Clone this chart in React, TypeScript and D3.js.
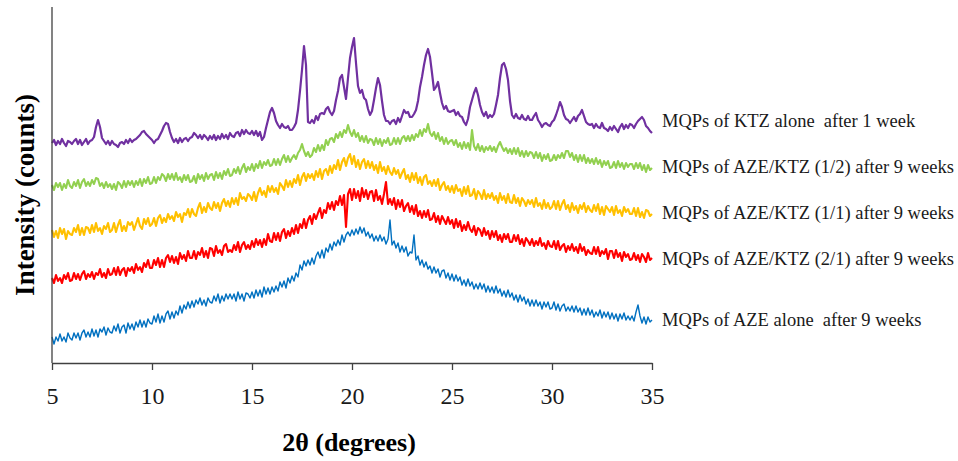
import { useEffect, useRef } from 'react';
import * as d3 from 'd3';

// 2-theta sampling of the digitised patterns
const START_ANGLE = 5;
const STEP = 0.1;
const xTicks = [5, 10, 15, 20, 25, 30, 35];

// intensities (arbitrary counts, offset stacking as in the figure), one row per degree
const ktzAlone1w = [
  220, 223, 218, 222, 219, 224, 220, 217, 222, 221,
  219, 222, 224, 219, 223, 218, 221, 224, 219, 222,
  223, 226, 236, 243, 236, 225, 222, 219, 222, 218,
  222, 219, 218, 216, 220, 221, 219, 223, 220, 224,
  221, 223, 224, 226, 228, 231, 232, 229, 227, 225,
  223, 220, 223, 224, 228, 232, 237, 240, 239, 231,
  225, 221, 224, 220, 225, 221, 224, 225, 222, 225,
  226, 230, 228, 225, 228, 224, 228, 226, 223, 227,
  224, 228, 223, 227, 224, 229, 225, 228, 224, 230,
  227, 226, 230, 231, 227, 233, 229, 233, 230, 229,
  232, 228, 232, 227, 231, 223, 226, 235, 243, 251,
  255, 250, 242, 238, 235, 239, 236, 235, 237, 233,
  233, 236, 240, 253, 272, 293, 317, 298, 241, 240,
  243, 240, 247, 243, 249, 250, 249, 254, 256, 251,
  248, 252, 263, 272, 285, 288, 276, 264, 285, 305,
  316, 325, 300, 277, 270, 273, 265, 263, 254, 248,
  252, 263, 275, 285, 278, 262, 248, 242, 242, 239,
  242, 243, 239, 245, 241, 247, 253, 250, 251, 246,
  246, 249, 253, 262, 276, 286, 298, 308, 314, 306,
  290, 273, 276, 281, 270, 260, 254, 257, 252, 251,
  252, 253, 248, 251, 247, 246, 241, 238, 244, 256,
  263, 270, 275, 268, 258, 251, 247, 251, 245, 248,
  246, 249, 258, 268, 285, 298, 300, 294, 283, 262,
  248, 245, 249, 245, 244, 248, 244, 243, 247, 243,
  243, 247, 250, 243, 240, 236, 239, 240, 238, 237,
  241, 243, 248, 254, 261, 256, 248, 244, 243, 240,
  243, 246, 242, 247, 249, 253, 247, 241, 239, 238,
  239, 235, 239, 236, 235, 240, 235, 234, 232, 236,
  233, 237, 234, 231, 236, 239, 234, 238, 235, 239,
  238, 235, 239, 242, 244, 246, 243, 237, 235, 232,
  230,
];

const azeKtz12 = [
  178, 173, 180, 176, 180, 173, 179, 175, 183, 177,
  175, 181, 177, 183, 175, 181, 184, 177, 181, 177,
  183, 179, 185, 184, 177, 180, 175, 181, 176, 179,
  174, 179, 173, 181, 179, 175, 182, 176, 182, 178,
  182, 176, 182, 178, 184, 177, 184, 180, 186, 179,
  180, 186, 180, 186, 183, 189, 187, 182, 189, 184,
  189, 183, 190, 183, 186, 181, 188, 183, 188, 181,
  182, 187, 180, 189, 184, 188, 182, 190, 184, 188,
  189, 183, 191, 185, 190, 184, 192, 188, 194, 187,
  188, 194, 190, 196, 189, 195, 199, 191, 196, 193,
  199, 192, 199, 195, 202, 195, 201, 198, 203, 197,
  198, 204, 198, 204, 198, 204, 208, 201, 207, 201,
  205, 208, 204, 210, 213, 219, 212, 207, 211, 206,
  208, 215, 211, 218, 212, 218, 213, 223, 218, 224,
  225, 221, 229, 225, 231, 226, 233, 230, 238, 231,
  227, 233, 226, 230, 222, 227, 221, 227, 220, 224,
  223, 218, 225, 219, 224, 217, 223, 220, 225, 218,
  219, 225, 219, 225, 219, 225, 227, 222, 227, 222,
  228, 223, 229, 226, 233, 227, 234, 231, 239, 230,
  227, 231, 224, 230, 222, 226, 219, 225, 219, 222,
  223, 218, 223, 216, 220, 214, 221, 215, 220, 213,
  233, 217, 213, 219, 212, 217, 211, 216, 213, 217,
  212, 216, 211, 217, 221, 216, 212, 215, 210, 214,
  209, 215, 209, 215, 207, 212, 206, 212, 207, 211,
  210, 205, 211, 205, 210, 202, 208, 204, 209, 202,
  203, 208, 203, 208, 205, 210, 205, 212, 212, 206,
  210, 203, 208, 201, 208, 202, 208, 200, 205, 200,
  204, 199, 205, 199, 203, 196, 202, 198, 202, 195,
  196, 201, 195, 202, 196, 200, 194, 200, 196, 199,
  199, 194, 200, 195, 200, 193, 198, 191, 198, 193,
  195,
];

const azeKtz11 = [
  133, 126, 132, 125, 135, 129, 134, 124, 132, 129,
  128, 135, 131, 138, 128, 135, 128, 136, 135, 130,
  138, 131, 140, 132, 135, 129, 137, 134, 140, 131,
  133, 140, 131, 138, 143, 132, 137, 132, 141, 138,
  141, 133, 139, 145, 137, 134, 144, 139, 145, 137,
  139, 145, 137, 145, 148, 140, 145, 141, 149, 144,
  147, 142, 151, 146, 149, 141, 150, 148, 154, 146,
  154, 149, 147, 155, 160, 150, 156, 151, 160, 155,
  153, 161, 155, 160, 152, 160, 164, 157, 162, 156,
  165, 159, 165, 158, 170, 164, 166, 162, 169, 167,
  163, 171, 162, 170, 175, 168, 172, 166, 177, 171,
  177, 171, 175, 169, 180, 177, 173, 183, 176, 182,
  176, 184, 180, 188, 178, 186, 190, 182, 189, 185,
  189, 183, 192, 186, 194, 184, 192, 194, 188, 197,
  190, 198, 194, 203, 193, 201, 205, 197, 205, 209,
  199, 207, 196, 203, 194, 201, 204, 195, 202, 195,
  201, 193, 198, 190, 201, 192, 196, 189, 197, 191,
  188, 195, 189, 193, 185, 190, 194, 184, 188, 181,
  190, 183, 190, 180, 186, 178, 186, 188, 179, 182,
  177, 183, 177, 184, 173, 178, 181, 173, 177, 171,
  177, 170, 178, 172, 174, 167, 176, 169, 177, 167,
  168, 174, 164, 172, 169, 164, 173, 164, 169, 165,
  170, 163, 167, 160, 170, 163, 167, 160, 169, 161,
  160, 168, 160, 165, 157, 165, 162, 157, 163, 159,
  163, 156, 165, 157, 160, 154, 163, 155, 160, 154,
  156, 162, 154, 162, 153, 159, 163, 154, 158, 151,
  160, 153, 157, 150, 158, 154, 160, 151, 157, 153,
  151, 158, 152, 159, 149, 156, 148, 157, 154, 151,
  156, 148, 157, 150, 153, 147, 156, 151, 154, 149,
  149, 155, 147, 155, 146, 151, 145, 153, 152, 147,
  149,
];

const azeKtz21 = [
  85, 80, 88, 82, 85, 80, 88, 84, 90, 82,
  83, 90, 84, 89, 83, 89, 92, 84, 89, 86,
  91, 84, 90, 88, 94, 86, 90, 85, 94, 88,
  89, 95, 88, 96, 88, 93, 95, 87, 95, 92,
  96, 90, 99, 93, 96, 91, 100, 96, 103, 95,
  95, 103, 98, 105, 96, 103, 96, 105, 108, 101,
  107, 100, 106, 99, 110, 104, 108, 102, 112, 105,
  105, 112, 104, 111, 108, 115, 106, 112, 105, 115,
  114, 107, 117, 110, 113, 108, 117, 119, 111, 113,
  111, 118, 113, 121, 111, 118, 121, 114, 118, 114,
  122, 116, 124, 118, 123, 116, 124, 118, 129, 122,
  121, 130, 123, 130, 122, 131, 134, 125, 132, 127,
  135, 129, 138, 130, 139, 135, 144, 135, 143, 147,
  139, 149, 144, 150, 155, 145, 153, 150, 160, 154,
  161, 153, 162, 158, 167, 158, 168, 136, 169, 174,
  163, 174, 165, 172, 162, 175, 166, 173, 164, 171,
  172, 162, 173, 163, 167, 159, 169, 181, 159, 164,
  158, 165, 154, 163, 156, 163, 152, 157, 160, 151,
  157, 149, 158, 147, 152, 145, 152, 146, 153, 143,
  144, 150, 141, 147, 139, 147, 143, 139, 146, 139,
  143, 135, 144, 136, 142, 132, 138, 133, 141, 134,
  131, 137, 128, 135, 133, 127, 135, 128, 132, 124,
  132, 126, 132, 123, 128, 121, 129, 124, 129, 121,
  121, 128, 122, 128, 119, 124, 117, 125, 122, 118,
  124, 117, 122, 118, 125, 117, 120, 114, 122, 117,
  116, 122, 114, 122, 113, 117, 119, 111, 117, 113,
  119, 112, 116, 110, 119, 112, 116, 108, 113, 110,
  109, 116, 109, 116, 107, 112, 109, 114, 104, 112,
  112, 105, 113, 106, 110, 102, 111, 106, 109, 103,
  104, 110, 103, 108, 101, 109, 106, 101, 110, 103,
  105,
];

const azeAlone9w = [
  26, 19, 26, 22, 29, 22, 26, 21, 30, 25,
  23, 30, 25, 30, 23, 30, 33, 26, 31, 26,
  34, 27, 33, 26, 34, 31, 36, 28, 35, 31,
  30, 37, 32, 39, 30, 36, 38, 30, 40, 34,
  39, 33, 41, 36, 43, 36, 42, 36, 44, 40,
  39, 47, 41, 49, 40, 47, 41, 49, 52, 44,
  51, 45, 52, 48, 57, 50, 58, 54, 61, 55,
  62, 56, 63, 59, 65, 58, 63, 57, 65, 61,
  60, 67, 62, 69, 60, 67, 62, 69, 64, 69,
  64, 69, 62, 71, 64, 69, 62, 70, 69, 65,
  71, 65, 73, 67, 73, 66, 76, 69, 75, 69,
  76, 71, 77, 72, 81, 76, 82, 75, 85, 80,
  87, 82, 90, 86, 98, 93, 102, 97, 103, 98,
  105, 99, 107, 111, 105, 113, 105, 115, 111, 119,
  113, 121, 117, 123, 118, 128, 121, 128, 131, 127,
  133, 128, 134, 129, 136, 130, 135, 127, 131, 125,
  129, 122, 127, 122, 128, 122, 126, 119, 124, 143,
  118, 122, 115, 120, 111, 117, 111, 116, 107, 111,
  110, 128, 103, 107, 98, 103, 96, 101, 94, 97,
  90, 96, 90, 94, 86, 92, 93, 85, 90, 83,
  89, 82, 88, 82, 86, 78, 83, 77, 84, 77,
  81, 74, 79, 74, 80, 74, 79, 71, 77, 71,
  76, 70, 77, 70, 74, 67, 72, 66, 73, 66,
  70, 63, 68, 61, 68, 62, 66, 59, 64, 57,
  63, 57, 63, 57, 61, 54, 61, 56, 61, 54,
  55, 61, 53, 59, 52, 57, 59, 52, 56, 52,
  57, 51, 57, 51, 55, 48, 54, 48, 55, 48,
  53, 46, 51, 47, 53, 45, 51, 46, 51, 44,
  50, 44, 49, 42, 49, 44, 50, 43, 47, 43,
  47, 42, 51, 58, 47, 40, 46, 39, 46, 41,
  43,
];

const seriesLabels = [
  'MQPs of KTZ alone  after 1 week',
  'MQPs of AZE/KTZ (1/2) after 9 weeks',
  'MQPs of AZE/KTZ (1/1) after 9 weeks',
  'MQPs of AZE/KTZ (2/1) after 9 weeks',
  'MQPs of AZE alone  after 9 weeks',
];
const seriesValues = [ktzAlone1w, azeKtz12, azeKtz11, azeKtz21, azeAlone9w];
const seriesColors = ['#7030A0', '#92D050', '#FFC000', '#FF0000', '#0070C0'];
const strokeWidths = [2.2, 2.1, 2.1, 2.1, 1.4];
// label baselines, px
const labelY = [127, 173, 219, 265, 326];

const FONT = '"Liberation Serif", "Times New Roman", serif';

const XrdChart = () => {
  const svgRef = useRef(null);

  useEffect(() => {
    const width = 958;
    const height = 461;
    const margin = { top: 7, left: 52, right: 306, bottom: 98 };

    const svg = d3.select(svgRef.current);
    svg.selectAll('*').remove();

    const x = d3.scaleLinear()
      .domain([5, 35])
      .range([margin.left, width - margin.right]);

    const y = d3.scaleLinear()
      .domain([0, 356])
      .range([height - margin.bottom, margin.top]);

    const line = d3.line()
      .x((d, i) => x(START_ANGLE + i * STEP))
      .y(d => y(d));

    // patterns
    seriesValues.forEach((vals, k) => {
      svg.append('path')
        .datum(vals)
        .attr('fill', 'none')
        .attr('stroke', seriesColors[k])
        .attr('stroke-width', strokeWidths[k])
        .attr('stroke-linejoin', 'round')
        .attr('d', line);
    });

    // y axis (no ticks)
    svg.append('line')
      .attr('x1', x(5)).attr('x2', x(5))
      .attr('y1', y(356)).attr('y2', y(0))
      .attr('stroke', '#404040')
      .attr('stroke-width', 1.3);

    // x axis
    const xAxis = svg.append('g')
      .attr('transform', `translate(0,${y(0)})`)
      .call(d3.axisBottom(x).tickValues(xTicks).tickSize(7).tickSizeOuter(0).tickPadding(17));
    xAxis.select('.domain').attr('stroke', '#404040').attr('stroke-width', 1.3);
    xAxis.selectAll('.tick line').attr('stroke', '#404040').attr('stroke-width', 1.3);
    xAxis.selectAll('.tick text')
      .style('font-family', FONT)
      .style('font-size', '24px')
      .attr('fill', '#1a1a1a');

    // axis titles
    svg.append('text')
      .attr('x', 349)
      .attr('y', 451)
      .attr('text-anchor', 'middle')
      .style('font-family', FONT)
      .style('font-weight', 'bold')
      .style('font-size', '26px')
      .attr('fill', '#000')
      .text('2θ (degrees)');

    svg.append('text')
      .attr('transform', 'translate(34,195) rotate(-90)')
      .attr('text-anchor', 'middle')
      .style('font-family', FONT)
      .style('font-weight', 'bold')
      .style('font-size', '27px')
      .attr('fill', '#000')
      .text('Intensity (counts)');

    // series labels
    svg.selectAll('.series-label')
      .data(seriesLabels)
      .enter()
      .append('text')
      .attr('class', 'series-label')
      .attr('x', 662)
      .attr('y', (d, i) => labelY[i])
      .style('font-family', FONT)
      .style('font-size', '18.5px')
      .style('white-space', 'pre')
      .attr('fill', '#1a1a1a')
      .text(d => d);
  }, []);

  return (
    <svg
      ref={svgRef}
      width={958}
      height={461}
      style={{ position: 'absolute', left: 0, top: 0, background: '#fff' }}
    />
  );
};

export default function App() {
  return <XrdChart />;
}
